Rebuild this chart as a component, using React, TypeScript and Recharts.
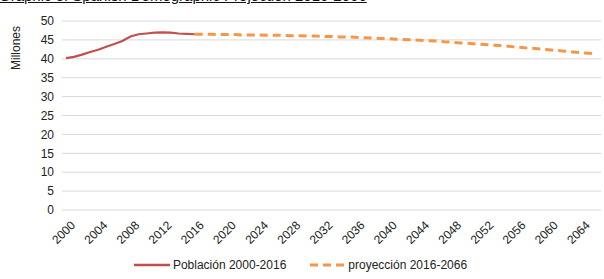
import React from "react";
import {
  LineChart,
  Line,
  XAxis,
  YAxis,
  CartesianGrid,
  Legend,
} from "recharts";

const years = [
  2000, 2001, 2002, 2003, 2004, 2005, 2006, 2007, 2008, 2009, 2010, 2011,
  2012, 2013, 2014, 2015, 2016, 2017, 2018, 2019, 2020, 2021, 2022, 2023,
  2024, 2025, 2026, 2027, 2028, 2029, 2030, 2031, 2032, 2033, 2034, 2035,
  2036, 2037, 2038, 2039, 2040, 2041, 2042, 2043, 2044, 2045, 2046, 2047,
  2048, 2049, 2050, 2051, 2052, 2053, 2054, 2055, 2056, 2057, 2058, 2059,
  2060, 2061, 2062, 2063, 2064, 2065, 2066,
];

// Población 2000-2016 (millones)
const poblacion = [
  40.2, 40.5, 41.1, 41.8, 42.4, 43.2, 43.9, 44.7, 45.9, 46.5, 46.7, 46.9,
  47.0, 46.9, 46.7, 46.6, 46.5,
];

// proyección 2016-2066 (millones)
const proyeccion = [
  46.5, 46.5, 46.5, 46.4, 46.4, 46.4, 46.3, 46.3, 46.3, 46.2, 46.2, 46.2,
  46.1, 46.1, 46.0, 46.0, 45.9, 45.9, 45.8, 45.8, 45.7, 45.6, 45.5, 45.4,
  45.3, 45.2, 45.1, 45.0, 44.9, 44.8, 44.7, 44.5, 44.4, 44.2, 44.1, 43.9,
  43.8, 43.6, 43.5, 43.3, 43.1, 42.9, 42.8, 42.6, 42.4, 42.2, 42.0, 41.8,
  41.6, 41.5, 41.3,
];

const xTicks = [
  2000, 2004, 2008, 2012, 2016, 2020, 2024, 2028, 2032, 2036, 2040, 2044,
  2048, 2052, 2056, 2060, 2064,
];
const yTicks = [0, 5, 10, 15, 20, 25, 30, 35, 40, 45, 50];

const projStart = 2016;

const data = years.map((year, i) => ({
  year,
  poblacion: i < poblacion.length ? poblacion[i] : null,
  proyeccion: year >= projStart ? proyeccion[year - projStart] : null,
}));

const FONT = "'Liberation Sans', Arial, sans-serif";

const YearTick = (props: any) => {
  const { x, y, payload } = props;
  const tx = x + 4;
  const ty = y + 2;
  return (
    <text
      x={tx}
      y={ty}
      textAnchor="end"
      dy="0.7em"
      transform={`rotate(-45, ${tx}, ${ty})`}
      fontSize={12}
      fontFamily={FONT}
      fill="#222"
    >
      {payload.value}
    </text>
  );
};

const LegendBox = () => (
  <div
    style={{
      height: 22,
      display: "flex",
      justifyContent: "center",
      alignItems: "center",
      fontFamily: FONT,
      fontSize: 12,
      color: "#222",
    }}
  >
    <svg width={36} height={6} style={{ marginRight: 3 }}>
      <line x1={0} y1={3} x2={36} y2={3} stroke="#C0504D" strokeWidth={2.5} />
    </svg>
    <span style={{ marginRight: 24 }}>Población 2000-2016</span>
    <svg width={34} height={6} style={{ marginRight: 4 }}>
      <line
        x1={0}
        y1={3}
        x2={34}
        y2={3}
        stroke="#F79646"
        strokeWidth={3}
        strokeDasharray="8 5"
      />
    </svg>
    <span>proyección 2016-2066</span>
  </div>
);

export default function App() {
  return (
    <div
      style={{
        position: "absolute",
        left: 0,
        top: 0,
        width: 604,
        height: 279,
        background: "#fff",
        overflow: "hidden",
      }}
    >
      <div
        style={{
          position: "absolute",
          left: -1,
          top: -13,
          fontFamily: FONT,
          fontSize: 15,
          textDecoration: "underline",
          whiteSpace: "nowrap",
          color: "#111",
        }}
      >
        Graphic of Spanish Demographic Projection 2016-2066
      </div>
      <LineChart
        width={604}
        height={279}
        data={data}
        margin={{ top: 21, right: 3, bottom: 3, left: 0 }}
      >
        <CartesianGrid vertical={false} stroke="#D9D9D9" strokeWidth={1} />
        <XAxis
          dataKey="year"
          type="number"
          domain={[1999.5, 2066.5]}
          ticks={xTicks}
          interval={0}
          axisLine={false}
          tickLine={false}
          height={44}
          tick={<YearTick />}
        />
        <YAxis
          domain={[0, 50]}
          ticks={yTicks}
          interval={0}
          width={62}
          axisLine={false}
          tickLine={false}
          tickMargin={2}
          tick={{ fontSize: 12, fontFamily: FONT, fill: "#222" }}
          label={{
            content: () => (
              <text
                x={20}
                y={48}
                textAnchor="middle"
                transform="rotate(-90, 20, 48)"
                fontSize={12}
                fontFamily={FONT}
                fill="#222"
              >
                Millones
              </text>
            ),
          }}
        />
        <Legend verticalAlign="bottom" content={<LegendBox />} />
        <Line
          dataKey="poblacion"
          stroke="#C0504D"
          strokeWidth={2.2}
          dot={false}
          isAnimationActive={false}
          connectNulls={false}
        />
        <Line
          dataKey="proyeccion"
          stroke="#F79646"
          strokeWidth={3}
          strokeDasharray="8 5"
          dot={false}
          isAnimationActive={false}
          connectNulls={false}
        />
      </LineChart>
    </div>
  );
}
